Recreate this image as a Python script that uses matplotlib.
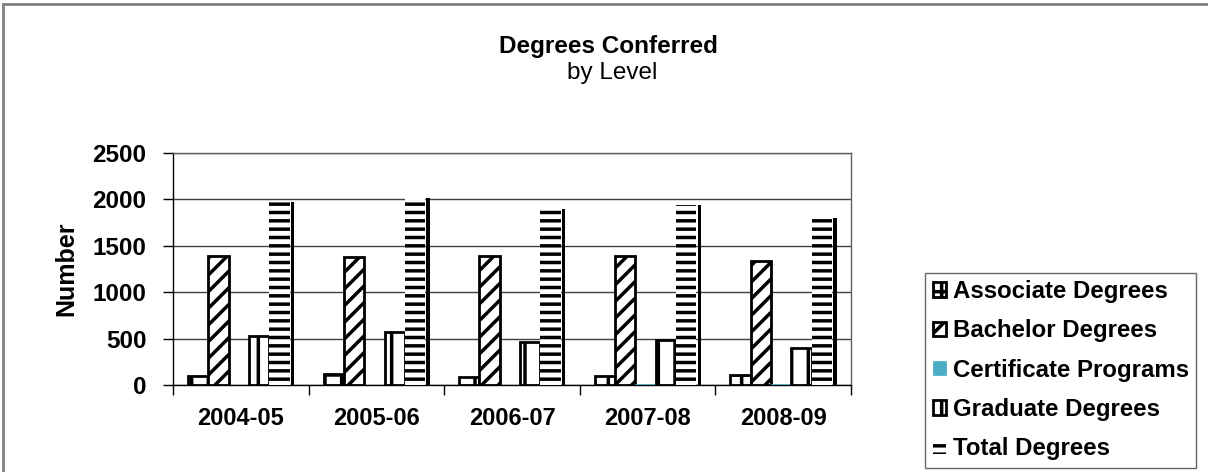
import numpy as np
import matplotlib
matplotlib.use("Agg")
import matplotlib.pyplot as plt
from matplotlib.patches import Rectangle

plt.rcParams['font.family'] = ['Liberation Sans', 'DejaVu Sans']
plt.rcParams['hatch.linewidth'] = 2.5

# Data
years = ['2004-05', '2005-06', '2006-07', '2007-08', '2008-09']
associate = [100, 115, 90, 93, 104]
bachelor = [1390, 1377, 1385, 1388, 1331]
certificate = [3, 0, 0, 8, 12]
graduate = [530, 567, 459, 484, 401]
total = [1972, 2015, 1890, 1935, 1800]

fig = plt.figure(figsize=(12.08, 4.72), dpi=100)
ax = fig.add_axes([0.1432, 0.1843, 0.5613, 0.4922])

x = np.arange(len(years))
w = 0.15
start = 0.11

ax.bar(x + start, associate, w, align='edge', color='white', edgecolor='black',
       linewidth=2, hatch='+', label='Associate Degrees', zorder=3)
ax.bar(x + start + w, bachelor, w, align='edge', color='white', edgecolor='black',
       linewidth=2, hatch='//', label='Bachelor Degrees', zorder=3)
ax.bar(x + start + 2 * w, certificate, w, align='edge', color='#4bacc6',
       edgecolor='#4bacc6', linewidth=0.5, label='Certificate Programs', zorder=3)
ax.bar(x + start + 3 * w, graduate, w, align='edge', color='white', edgecolor='black',
       linewidth=2, hatch='|', label='Graduate Degrees', zorder=3)
# total bars: horizontal stripes with a dark strip on the right
ax.bar(x + start + 5 * w + 0.008, total, 0.025, align='edge', color='black',
       edgecolor='black', linewidth=0, zorder=3)
ax.bar(x + start + 4 * w, total, w, align='edge', color='white', edgecolor='black',
       linewidth=0, hatch='--', label='Total Degrees', zorder=3)

ax.set_xlim(0, len(years))
ax.set_ylim(0, 2500)
ax.set_yticks([0, 500, 1000, 1500, 2000, 2500])
ax.yaxis.grid(True, color='#404040', linewidth=1, zorder=0)
ax.set_xticks(x + 0.5)
ax.set_xticklabels(years, fontsize=17, fontweight='bold')
ax.set_xticks(np.arange(len(years) + 1), minor=True)
ax.tick_params(axis='x', which='major', length=0, pad=16)
ax.tick_params(axis='x', which='minor', length=7, width=1, color='black')
ax.tick_params(axis='y', length=7, width=1, labelsize=17.5, pad=12)
for lab in ax.get_yticklabels():
    lab.set_fontweight('bold')
ax.set_ylabel('Number', fontsize=18, fontweight='bold')
ax.yaxis.set_label_coords(-0.14, 0.5)

for side in ['top', 'right']:
    ax.spines[side].set_color('#606060')
for side in ['left', 'bottom']:
    ax.spines[side].set_color('black')
for s in ax.spines.values():
    s.set_linewidth(1)

fig.text(0.504, 0.902, 'Degrees Conferred', ha='center', va='center',
         fontsize=17.5, fontweight='bold')
fig.text(0.507, 0.845, 'by Level', ha='center', va='center', fontsize=17.5)

leg = fig.legend(loc='upper left', bbox_to_anchor=(0.766, 0.422), frameon=True,
                 fancybox=False, edgecolor='#404040',
                 prop={'weight': 'bold', 'size': 17.3}, handlelength=0.55,
                 handleheight=0.55, handletextpad=0.3, labelspacing=0.68,
                 borderpad=0.3, borderaxespad=0)
leg.get_frame().set_linewidth(1)

# figure border
fig.patches.append(Rectangle((3 / 1208, -0.05), 1.2, 1.05 - 4 / 472, transform=fig.transFigure,
                             fill=False, edgecolor='#808080', linewidth=2))

fig.savefig('out.png', dpi=100)
